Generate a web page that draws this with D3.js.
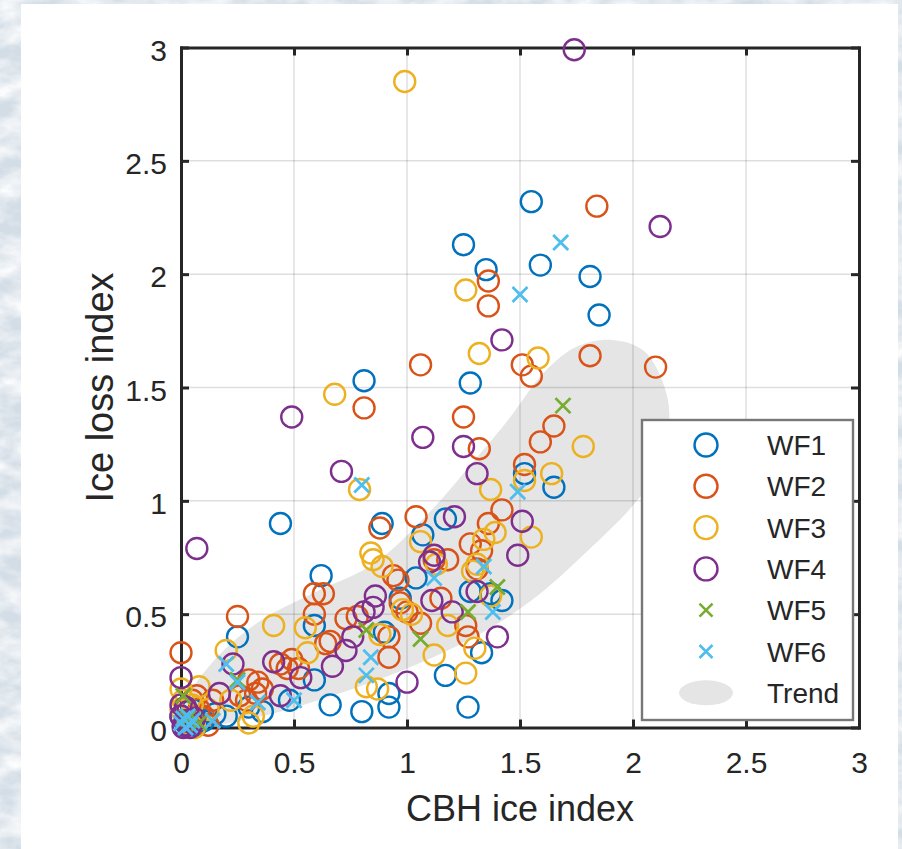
<!DOCTYPE html>
<html>
<head>
<meta charset="utf-8">
<script src="https://cdn.jsdelivr.net/npm/d3@7"></script>
<style>
  html, body { margin: 0; padding: 0; background: #d8e1e9; }
  svg { display: block; }
  text { font-family: "Liberation Sans", Arial, sans-serif; fill: #262626; }
</style>
</head>
<body>
<svg id="chart" width="902" height="849"></svg>
<script>
// ---- data (CBH ice index, ice loss index) ----
const seriesNames = ["WF1", "WF2", "WF3", "WF4", "WF5", "WF6"];
const seriesColors = ["#0072BD", "#D95319", "#EDB120", "#7E2F8E", "#77AC30", "#4DBEEE"];
const seriesMarkers = ["o", "o", "o", "o", "x", "x"];

const wf1 = [
  [0.00, 0.05], [0.02, 0.02], [0.05, 0.08], [0.10, 0.03], [0.20, 0.05], [0.25, 0.40],
  [0.30, 0.09], [0.36, 0.07], [0.44, 0.90], [0.48, 0.12], [0.59, 0.21], [0.59, 0.45],
  [0.62, 0.67], [0.66, 0.10], [0.80, 0.07], [0.81, 1.53], [0.89, 0.90], [0.90, 0.42],
  [0.92, 0.09], [0.92, 0.15], [0.97, 0.57], [1.04, 0.66], [1.07, 0.85], [1.17, 0.92],
  [1.17, 0.23], [1.25, 2.13], [1.27, 0.09], [1.28, 1.52], [1.28, 0.60], [1.33, 0.33],
  [1.35, 2.02], [1.37, 0.59], [1.42, 0.56], [1.52, 1.12], [1.55, 2.32], [1.59, 2.04],
  [1.65, 1.06], [1.81, 1.99], [1.85, 1.82], [0.07, 0.01], [0.15, 0.06]
];
const wf2 = [
  [0.00, 0.33], [0.02, 0.08], [0.05, 0.12], [0.07, 0.14], [0.10, 0.05], [0.14, 0.12],
  [0.25, 0.49], [0.26, 0.14], [0.29, 0.12], [0.30, 0.21], [0.33, 0.15], [0.34, 0.20],
  [0.36, 0.17], [0.44, 0.28], [0.47, 0.26], [0.49, 0.30], [0.52, 0.26], [0.59, 0.59],
  [0.63, 0.59], [0.59, 0.50], [0.64, 0.37], [0.66, 0.38], [0.73, 0.48], [0.78, 0.49],
  [0.81, 1.41], [0.88, 0.88], [0.92, 0.31], [0.92, 0.40], [0.94, 0.67], [0.96, 0.65],
  [0.97, 0.55], [1.00, 0.51], [1.04, 0.93], [1.06, 1.60], [1.06, 0.46], [1.12, 0.74],
  [1.15, 0.57], [1.18, 0.74], [1.25, 1.37], [1.26, 0.45], [1.27, 0.40], [1.28, 0.81],
  [1.31, 0.70], [1.32, 1.23], [1.33, 0.78], [1.36, 1.97], [1.36, 1.86], [1.36, 0.90],
  [1.42, 0.96], [1.51, 1.60], [1.52, 1.16], [1.55, 1.55], [1.59, 1.26], [1.65, 1.33],
  [1.81, 1.64], [1.84, 2.30], [2.10, 1.59], [0.03, 0.02], [0.08, 0.08], [0.12, 0.01]
];
const wf3 = [
  [0.00, 0.17], [0.00, 0.08], [0.03, 0.04], [0.08, 0.18], [0.12, 0.08], [0.20, 0.34],
  [0.22, 0.12], [0.30, 0.02], [0.32, 0.05], [0.41, 0.45], [0.55, 0.44], [0.56, 0.33],
  [0.68, 1.47], [0.79, 1.05], [0.82, 0.18], [0.84, 0.77], [0.85, 0.74], [0.87, 0.17],
  [0.88, 0.41], [0.89, 0.71], [0.98, 0.52], [0.99, 2.85], [1.02, 0.50], [1.06, 0.82],
  [1.12, 0.32], [1.13, 0.72], [1.18, 0.45], [1.26, 1.93], [1.26, 0.24], [1.29, 0.69],
  [1.30, 0.35], [1.31, 0.72], [1.32, 1.65], [1.34, 0.83], [1.37, 1.05], [1.39, 0.86],
  [1.37, 0.58], [1.52, 1.09], [1.55, 0.84], [1.58, 1.63], [1.64, 1.12], [1.78, 1.24],
  [0.05, 0.10], [0.01, 0.12], [0.06, 0.00]
];
const wf4 = [
  [0.00, 0.22], [0.00, 0.05], [0.02, 0.03], [0.03, 0.07], [0.01, 0.01], [0.07, 0.79],
  [0.17, 0.15], [0.23, 0.28], [0.41, 0.29], [0.44, 0.14], [0.49, 1.37], [0.53, 0.22],
  [0.67, 0.27], [0.71, 1.13], [0.73, 0.34], [0.76, 0.40], [0.81, 0.51], [0.85, 0.53],
  [0.86, 0.58], [1.00, 0.20], [1.07, 1.28], [1.10, 0.73], [1.11, 0.56], [1.12, 0.76],
  [1.20, 0.51], [1.21, 0.93], [1.25, 1.24], [1.31, 1.12], [1.31, 0.60], [1.40, 0.40],
  [1.42, 1.71], [1.49, 0.76], [1.51, 0.91], [1.74, 2.99], [2.12, 2.21],
  [0.00, 0.10], [0.04, 0.00], [0.06, 0.04], [0.02, 0.09], [0.05, 0.02], [0.01, 0.00]
];
const wf5 = [
  [0.01, 0.14], [0.03, 0.04], [0.08, 0.02], [0.25, 0.21], [0.82, 0.43], [1.06, 0.39],
  [1.27, 0.51], [1.40, 0.62], [1.69, 1.42]
];
const wf6 = [
  [0.00, 0.02], [0.02, 0.00], [0.03, 0.05], [0.05, 0.03], [0.14, 0.03], [0.20, 0.28],
  [0.25, 0.20], [0.34, 0.11], [0.50, 0.12], [0.80, 1.07], [0.82, 0.23], [0.84, 0.31],
  [1.12, 0.66], [1.34, 0.71], [1.38, 0.51], [1.49, 1.04], [1.50, 1.91], [1.68, 2.14],
  [0.01, 0.04], [0.04, 0.01]
];

// outline of the grey trend band, in data units
const trendOutline = [
  [0.00, 0.04], [0.02, 0.12], [0.15, 0.30], [0.35, 0.47], [0.60, 0.60], [0.85, 0.72],
  [1.10, 0.95], [1.30, 1.18], [1.45, 1.36], [1.60, 1.56], [1.75, 1.68], [1.91, 1.71],
  [2.05, 1.66], [2.14, 1.50], [2.16, 1.35], [2.10, 1.12], [2.00, 0.98], [1.80, 0.78],
  [1.55, 0.56], [1.30, 0.40], [1.00, 0.26], [0.70, 0.15], [0.40, 0.06], [0.15, 0.01],
  [0.03, 0.00]
];

const tickValues = [0, 0.5, 1, 1.5, 2, 2.5, 3];
const xLabel = "CBH ice index",
  yLabel = "Ice loss index",
  trendLabel = "Trend";

const allSeries = [wf1, wf2, wf3, wf4, wf5, wf6];

// ---- layout ----
const W = 902, H = 849;
const plotLeft = 181, plotRight = 859, plotTop = 47.5, plotBottom = 727.5;
const trendColor = "#e5e5e5",
  axisColor = "#262626";

const x = d3.scaleLinear().domain([0, 3]).range([plotLeft, plotRight]);
const y = d3.scaleLinear().domain([0, 3]).range([plotBottom, plotTop]);
const fmt = d3.format("~g");

const svg = d3.select("#chart");

// frosty backdrop and white sheet
const defs = svg.append("defs");
const frost = defs.append("filter").attr("id", "frost");
frost.append("feTurbulence")
  .attr("type", "fractalNoise")
  .attr("baseFrequency", "0.03 0.05")
  .attr("numOctaves", 4)
  .attr("seed", 11);
frost.append("feColorMatrix")
  .attr("type", "matrix")
  .attr("values", "0 0 0 0 1  0 0 0 0 1  0 0 0 0 1  1.8 0 0 0 -0.55");
svg.append("rect").attr("width", W).attr("height", H).attr("fill", "#d3dde6");
svg.append("rect").attr("width", W).attr("height", H).attr("filter", "url(#frost)");
svg.append("rect")
  .attr("x", 21).attr("y", 4)
  .attr("width", 877).attr("height", H - 4)
  .attr("fill", "#fff");

// trend band
svg.append("path")
  .datum(trendOutline)
  .attr("d", d3.line()
    .x(d => x(d[0]))
    .y(d => y(d[1]))
    .curve(d3.curveCatmullRomClosed.alpha(0.5)))
  .attr("fill", trendColor);

// grid
const grid = svg.append("g").attr("stroke", "#000").attr("stroke-opacity", 0.13).attr("stroke-width", 1.5);
grid.selectAll(".gx").data(tickValues.slice(1, -1)).enter().append("line")
  .attr("x1", d => x(d)).attr("x2", d => x(d))
  .attr("y1", plotTop).attr("y2", plotBottom);
grid.selectAll(".gy").data(tickValues.slice(1, -1)).enter().append("line")
  .attr("y1", d => y(d)).attr("y2", d => y(d))
  .attr("x1", plotLeft).attr("x2", plotRight);

// axes (box with inward ticks)
function styleAxis(g) {
  g.selectAll("path.domain").attr("stroke", axisColor).attr("stroke-width", 3).attr("stroke-linecap", "square");
  g.selectAll(".tick line").attr("stroke", axisColor).attr("stroke-width", 3);
  g.selectAll(".tick text")
    .attr("fill", axisColor)
    .style("font-family", '"Liberation Sans", Arial, sans-serif')
    .style("font-size", "30px");
}
const xAxis = d3.axisBottom(x).tickValues(tickValues).tickFormat(fmt)
  .tickSizeInner(-8).tickSizeOuter(0).tickPadding(24);
const yAxis = d3.axisLeft(y).tickValues(tickValues).tickFormat(fmt)
  .tickSizeInner(-8).tickSizeOuter(0).tickPadding(14);

svg.append("g").attr("transform", `translate(0,${plotBottom})`).call(xAxis).call(styleAxis);
svg.append("g").attr("transform", `translate(${plotLeft},0)`).call(yAxis).call(styleAxis)
  .selectAll(".tick text").attr("dy", "0.42em");
svg.append("g").attr("transform", `translate(0,${plotTop})`)
  .call(d3.axisTop(x).tickValues(tickValues).tickFormat("").tickSizeInner(-8).tickSizeOuter(0))
  .call(styleAxis);
svg.append("g").attr("transform", `translate(${plotRight},0)`)
  .call(d3.axisRight(y).tickValues(tickValues).tickFormat("").tickSizeInner(-8).tickSizeOuter(0))
  .call(styleAxis);

// axis titles
svg.append("text")
  .attr("x", (plotLeft + plotRight) / 2).attr("y", 821)
  .attr("text-anchor", "middle")
  .style("font-size", "36px")
  .text(xLabel);
svg.append("text")
  .attr("transform", `translate(113,${(plotTop + plotBottom) / 2}) rotate(-90)`)
  .attr("text-anchor", "middle")
  .style("font-size", "38px")
  .text(yLabel);

// markers
function crossPath(s) {
  const p = d3.path();
  p.moveTo(-s, -s); p.lineTo(s, s);
  p.moveTo(-s, s); p.lineTo(s, -s);
  return p.toString();
}
allSeries.forEach((pts, i) => {
  const g = svg.append("g").attr("fill", "none").attr("stroke", seriesColors[i]);
  if (seriesMarkers[i] === "o") {
    g.attr("stroke-width", 2.4)
      .selectAll("circle").data(pts).enter().append("circle")
      .attr("cx", d => x(d[0])).attr("cy", d => y(d[1])).attr("r", 10.5);
  } else {
    g.attr("stroke-width", 2.8)
      .selectAll("path").data(pts).enter().append("path")
      .attr("transform", d => `translate(${x(d[0])},${y(d[1])})`)
      .attr("d", crossPath(7.5));
  }
});

// legend
const legend = svg.append("g");
legend.append("rect")
  .attr("x", 642).attr("y", 420).attr("width", 211).attr("height", 300)
  .attr("fill", "#fff").attr("stroke", "#777").attr("stroke-width", 2.4);
const entries = seriesNames.concat([trendLabel]);
const rowY = i => 445 + i * 41.3;
entries.forEach((name, i) => {
  const cy = rowY(i);
  if (i < seriesNames.length) {
    if (seriesMarkers[i] === "o") {
      legend.append("circle").attr("cx", 706).attr("cy", cy).attr("r", 11.5)
        .attr("fill", "none").attr("stroke", seriesColors[i]).attr("stroke-width", 2.4);
    } else {
      legend.append("path").attr("transform", `translate(706,${cy})`).attr("d", crossPath(6.5))
        .attr("fill", "none").attr("stroke", seriesColors[i]).attr("stroke-width", 2.6);
    }
  } else {
    legend.append("ellipse").attr("cx", 706).attr("cy", cy).attr("rx", 27).attr("ry", 12.5)
      .attr("fill", trendColor);
  }
  legend.append("text")
    .attr("x", 767).attr("y", cy).attr("dy", "0.36em")
    .style("font-size", "28px")
    .text(name);
});
</script>
</body>
</html>
